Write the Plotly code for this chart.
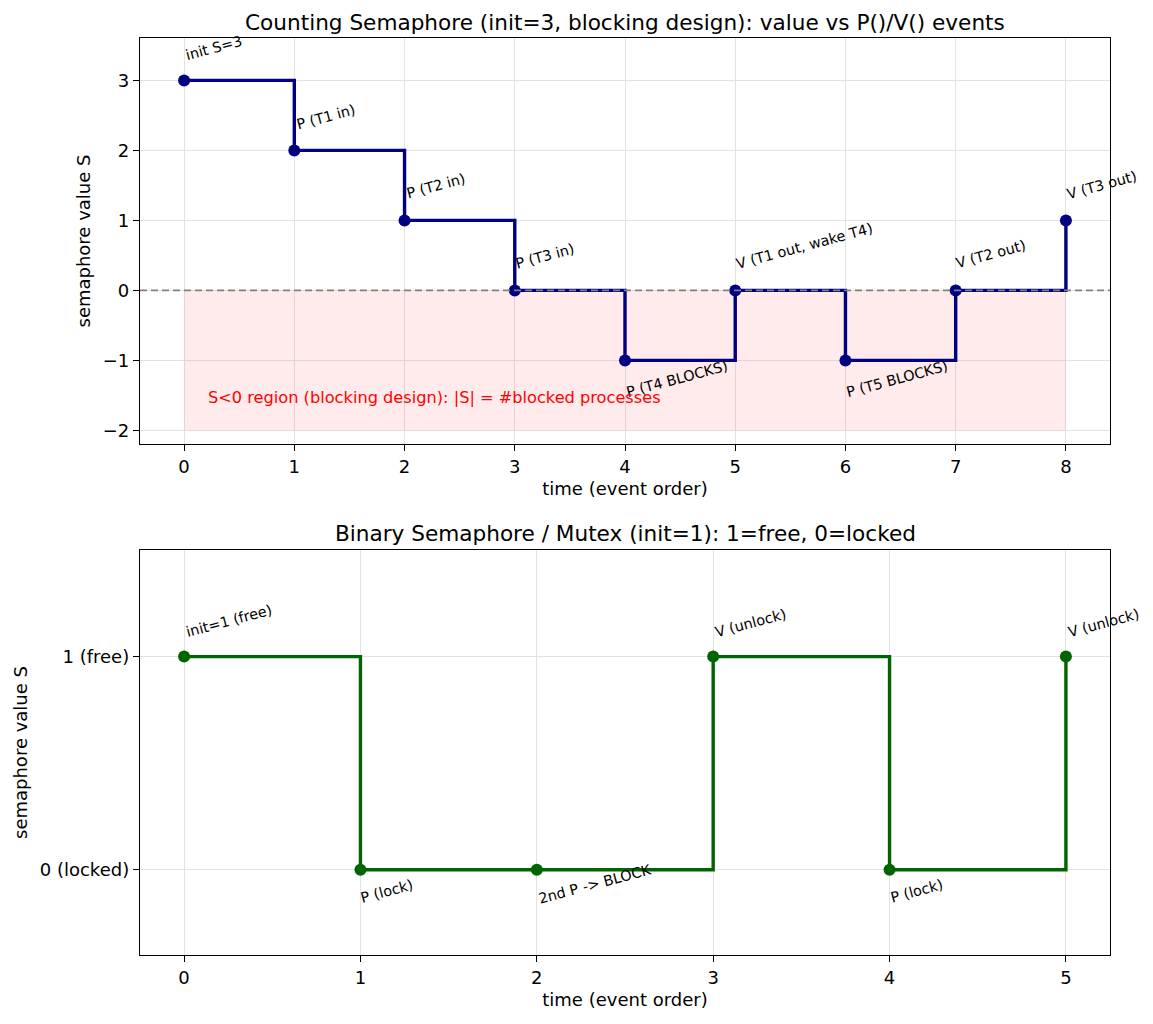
import plotly.graph_objects as go
from plotly.subplots import make_subplots

# ---- Data ----
count_t = [0, 1, 2, 3, 4, 5, 6, 7, 8]
count_s = [3, 2, 1, 0, -1, 0, -1, 0, 1]
count_labels = ["init S=3", "P (T1 in)", "P (T2 in)", "P (T3 in)", "P (T4 BLOCKS)",
                "V (T1 out, wake T4)", "P (T5 BLOCKS)", "V (T2 out)", "V (T3 out)"]

bin_t = [0, 1, 2, 3, 4, 5]
bin_s = [1, 0, 0, 1, 0, 1]
bin_labels = ["init=1 (free)", "P (lock)", "2nd P -> BLOCK", "V (unlock)", "P (lock)", "V (unlock)"]
bin_ticks = [0, 1]
bin_ticktext = ["0 (locked)", "1 (free)"]

blocked_floor = -2

# label pixel offsets (center of rotated text relative to point)
count_off = [(29.5, 32.5), (31.5, 33), (31, 34), (30.5, 34), (51.5, -19),
             (69, 44.5), (51.5, -19), (35.5, 36), (36, 35)]
bin_off = [(44.5, 35.5), (27, -21), (58, -14.5), (37.5, 34), (27, -21), (37.5, 34)]

FONT = "DejaVu Sans"
NAVY = "#000080"
GREEN = "#006400"

fig = make_subplots(rows=2, cols=1, vertical_spacing=0.0)

# pink blocked region
fig.add_trace(go.Scatter(
    x=[count_t[0], count_t[-1], count_t[-1], count_t[0], count_t[0]],
    y=[0, 0, blocked_floor, blocked_floor, 0],
    fill="toself", fillcolor="rgba(255,0,0,0.08)", line=dict(width=0),
    mode="lines", hoverinfo="skip", showlegend=False), row=1, col=1)

fig.add_trace(go.Scatter(
    x=count_t, y=count_s, mode="lines+markers", line_shape="hv",
    line=dict(color=NAVY, width=3.4), marker=dict(color=NAVY, size=12),
    showlegend=False), row=1, col=1)

fig.add_trace(go.Scatter(
    x=bin_t, y=bin_s, mode="lines+markers", line_shape="hv",
    line=dict(color=GREEN, width=3.4), marker=dict(color=GREEN, size=12),
    showlegend=False), row=2, col=1)

# dashed zero line
fig.add_shape(type="line", xref="x domain", yref="y", x0=0, x1=1, y0=0, y1=0,
              line=dict(color="#808080", width=1.6, dash="7px,4px"), layer="above")

for t, s, lab, (dx, dy) in zip(count_t, count_s, count_labels, count_off):
    fig.add_annotation(x=t, y=s, xref="x", yref="y", text=lab, showarrow=False,
                       textangle=-15, xanchor="center", yanchor="middle",
                       xshift=dx, yshift=dy,
                       font=dict(family=FONT, size=14.4, color="black"))

for t, s, lab, (dx, dy) in zip(bin_t, bin_s, bin_labels, bin_off):
    fig.add_annotation(x=t, y=s, xref="x2", yref="y2", text=lab, showarrow=False,
                       textangle=-15, xanchor="center", yanchor="middle",
                       xshift=dx, yshift=dy,
                       font=dict(family=FONT, size=14.4, color="black"))

fig.add_annotation(x=0.2, y=-1.53, xref="x", yref="y",
                   text="S<0 region (blocking design): |S| = #blocked processes",
                   showarrow=False, xanchor="left", yanchor="middle",
                   font=dict(family=FONT, size=16.2, color="red"))

# subplot titles
fig.add_annotation(x=0.5, y=(955 - 23) / 917, xref="paper", yref="paper",
                   text="Counting Semaphore (init=3, blocking design): value vs P()/V() events",
                   showarrow=False, xanchor="center", yanchor="middle",
                   font=dict(family=FONT, size=21.6, color="black"))
fig.add_annotation(x=0.5, y=(955 - 533) / 917, xref="paper", yref="paper",
                   text="Binary Semaphore / Mutex (init=1): 1=free, 0=locked",
                   showarrow=False, xanchor="center", yanchor="middle",
                   font=dict(family=FONT, size=21.6, color="black"))

axis_common = dict(showline=True, linecolor="black", linewidth=1.4, mirror=True,
                   ticks="outside", ticklen=6, tickwidth=1.4, tickcolor="black",
                   showgrid=True, gridcolor="#e3e3e3", gridwidth=1.2, zeroline=False,
                   tickfont=dict(family=FONT, size=18, color="black"))

fig.update_xaxes(**axis_common)
fig.update_yaxes(**axis_common)

fig.update_layout(
    width=1153, height=1024,
    margin=dict(l=140, r=43, t=38, b=69),
    paper_bgcolor="white", plot_bgcolor="white",
    font=dict(family=FONT, size=18, color="black"),
    showlegend=False,
    xaxis=dict(domain=[0, 1], range=[-0.4, 8.4], tickmode="array", tickvals=count_t,
               title=dict(text="time (event order)", standoff=6,
                          font=dict(family=FONT, size=18))),
    yaxis=dict(domain=[1 - 406 / 917, 1], range=[-2.194, 3.606], tickmode="array",
               tickvals=[-2, -1, 0, 1, 2, 3],
               title=dict(text="semaphore value S", standoff=7,
                          font=dict(family=FONT, size=18))),
    xaxis2=dict(domain=[0, 1], range=[-0.25, 5.25], tickmode="array", tickvals=bin_t,
                title=dict(text="time (event order)", standoff=6,
                           font=dict(family=FONT, size=18))),
    yaxis2=dict(domain=[0, 1 - 512 / 917], range=[-0.4, 1.5], tickmode="array",
                tickvals=bin_ticks, ticktext=bin_ticktext,
                title=dict(text="semaphore value S", standoff=7,
                           font=dict(family=FONT, size=18))),
)

fig.write_html("out.html")
